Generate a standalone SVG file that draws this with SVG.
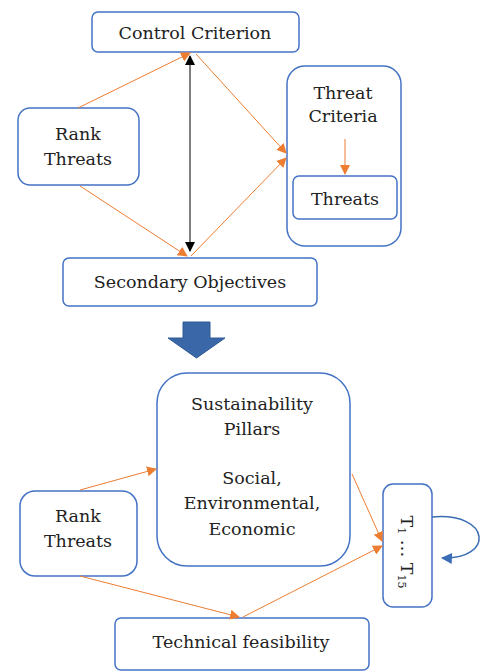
<svg xmlns="http://www.w3.org/2000/svg" width="483" height="672" viewBox="0 0 483 672">
<style>
.box{fill:#fff;stroke:#4472C4;stroke-width:1.5}
.t{font-family:"DejaVu Serif","Liberation Serif",serif;font-size:17.5px;fill:#222;text-anchor:middle}
.o{stroke:#ED7D31;stroke-width:1;fill:none}
</style>
<defs>
<marker id="ao" viewBox="0 0 10 10" refX="9" refY="5" markerWidth="10" markerHeight="10" markerUnits="userSpaceOnUse" orient="auto"><path d="M0,0L10,5L0,10z" fill="#ED7D31"/></marker>
<marker id="ab" viewBox="0 0 10 10" refX="9" refY="5" markerWidth="10" markerHeight="10" markerUnits="userSpaceOnUse" orient="auto-start-reverse"><path d="M0,0L10,5L0,10z" fill="#000"/></marker>
<marker id="al" viewBox="0 0 10 10" refX="9" refY="5" markerWidth="11" markerHeight="11" markerUnits="userSpaceOnUse" orient="auto"><path d="M0,0L10,5L0,10z" fill="#3A6DB5"/></marker>
</defs>
<rect width="483" height="672" fill="#fff"/>
<g id="control-criterion"><rect class="box" x="92" y="12" width="207" height="40" rx="6"/><text class="t" x="195" y="39">Control Criterion</text></g>
<g id="rank-threats-1"><rect class="box" x="18" y="108" width="121" height="77" rx="12"/><text class="t" x="78" y="140">Rank</text><text class="t" x="78" y="165">Threats</text></g>
<g id="threat-criteria"><rect class="box" x="287" y="66" width="114" height="180" rx="18"/><text class="t" x="343" y="99">Threat</text><text class="t" x="343" y="122">Criteria</text></g>
<g id="threats"><rect class="box" x="293" y="176" width="104" height="43" rx="6"/><text class="t" x="345" y="205">Threats</text></g>
<g id="secondary-objectives"><rect class="box" x="63" y="258" width="254" height="48" rx="6"/><text class="t" x="190" y="288">Secondary Objectives</text></g>
<g id="big-arrow"><path d="M183,322H210V338H225L196.5,358L168,338H183Z" fill="#3A67A8" stroke="#2F5A95" stroke-width="1"/></g>
<g id="sustainability-pillars"><rect class="box" x="157" y="373" width="193" height="193" rx="30"/><text class="t" x="252" y="410">Sustainability</text><text class="t" x="252" y="435">Pillars</text><text class="t" x="252" y="484">Social,</text><text class="t" x="252" y="509">Environmental,</text><text class="t" x="252" y="535">Economic</text></g>
<g id="rank-threats-2"><rect class="box" x="20" y="491" width="117" height="85" rx="15"/><text class="t" x="78" y="522">Rank</text><text class="t" x="78" y="547">Threats</text></g>
<g id="t-range"><rect class="box" x="383" y="484" width="49" height="123" rx="10"/><text class="t" transform="translate(401,552) rotate(90)">T<tspan font-size="11" dy="3">1</tspan><tspan dy="-3"> … T</tspan><tspan font-size="11" dy="3">15</tspan></text></g>
<g id="technical-feasibility"><rect class="box" x="115" y="618" width="254" height="52" rx="6"/><text class="t" x="241" y="648">Technical feasibility</text></g>
<g id="connectors">
<line class="o" x1="78" y1="108" x2="190" y2="53" marker-end="url(#ao)"/>
<line class="o" x1="196" y1="54" x2="286" y2="153" marker-end="url(#ao)"/>
<line class="o" x1="80" y1="186" x2="187" y2="256" marker-end="url(#ao)"/>
<line class="o" x1="191" y1="256" x2="286" y2="158" marker-end="url(#ao)"/>
<line class="o" x1="345" y1="139" x2="345" y2="174" marker-end="url(#ao)"/>
<line x1="190" y1="56" x2="190" y2="251" stroke="#000" stroke-width="1" marker-start="url(#ab)" marker-end="url(#ab)"/>
<line class="o" x1="80" y1="490" x2="156" y2="469" marker-end="url(#ao)"/>
<line class="o" x1="352" y1="474" x2="382" y2="541" marker-end="url(#ao)"/>
<line class="o" x1="80" y1="576" x2="239" y2="617" marker-end="url(#ao)"/>
<line class="o" x1="243" y1="617" x2="382" y2="546" marker-end="url(#ao)"/>
<path d="M432,517C492,512 494,560 442,558" fill="none" stroke="#3A6DB5" stroke-width="1.5" marker-end="url(#al)"/>
</g>
</svg>
